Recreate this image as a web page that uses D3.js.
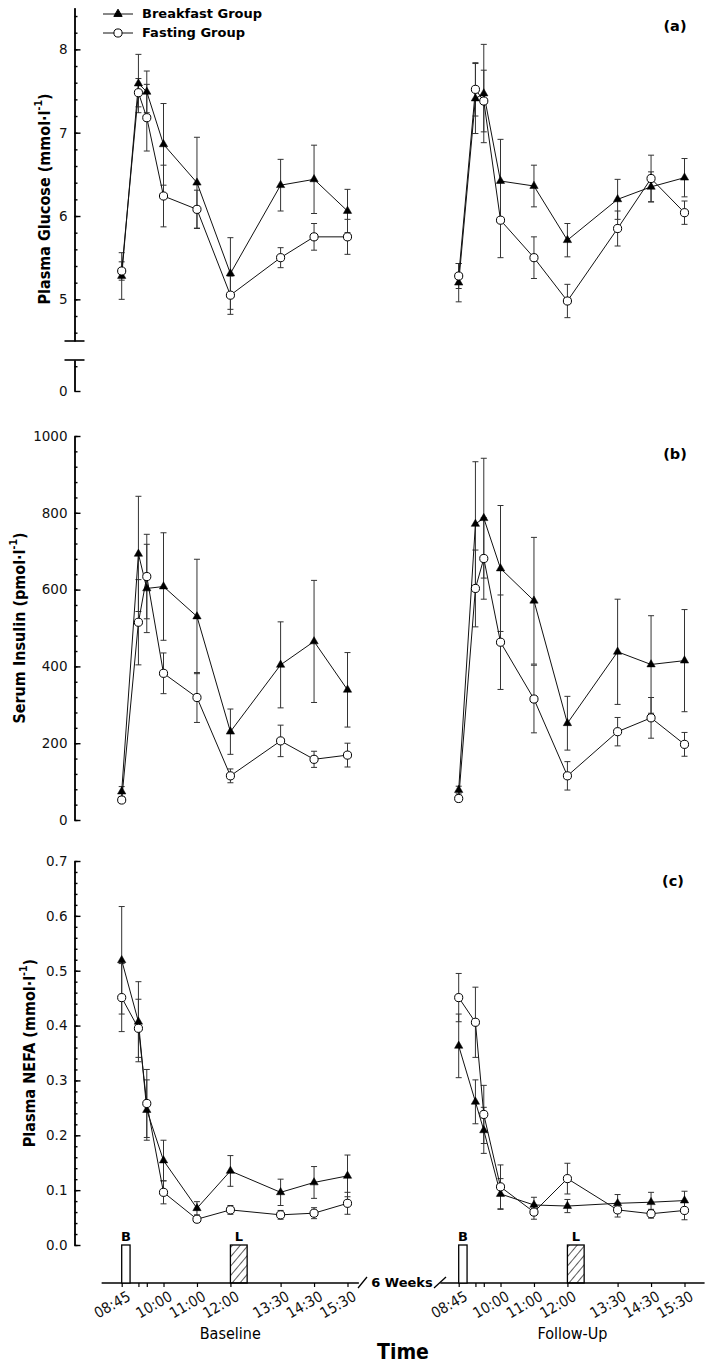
<!DOCTYPE html>
<html>
<head>
<meta charset="utf-8">
<title>Glucose, insulin and NEFA - breakfast vs fasting</title>
<script src="https://cdn.jsdelivr.net/npm/d3@7"></script>
<style>
  body { margin: 0; background: #fff; }
  svg { display: block; font-family: "DejaVu Sans", Verdana, sans-serif; }
  .cond { font-family: "DejaVu Sans Condensed", "DejaVu Sans", sans-serif; }
</style>
</head>
<body>
<svg id="chart" width="709" height="1364"></svg>
<script>
// sampling times (hours of the day), same for both visits
var times = [8.75, 9.25, 9.5, 10, 11, 12, 13.5, 14.5, 15.5];
var labelTimes = [8.75, 10, 11, 12, 13.5, 14.5, 15.5];
var labelText = ["08:45", "10:00", "11:00", "12:00", "13:30", "14:30", "15:30"];

// plasma glucose (mmol/l), mean and SE
var gluBaseBreakfast = [5.28, 7.59, 7.49, 6.86, 6.40, 5.31, 6.37, 6.44, 6.06];
var gluBaseBreakfastSE = [0.28, 0.35, 0.25, 0.49, 0.545, 0.43, 0.31, 0.41, 0.26];
var gluBaseFasting = [5.34, 7.48, 7.18, 6.24, 6.08, 5.05, 5.50, 5.75, 5.75];
var gluBaseFastingSE = [0.11, 0.17, 0.40, 0.37, 0.23, 0.23, 0.12, 0.16, 0.21];
var gluFollowBreakfast = [5.20, 7.41, 7.47, 6.42, 6.36, 5.71, 6.20, 6.35, 6.46];
var gluFollowBreakfastSE = [0.23, 0.42, 0.59, 0.50, 0.25, 0.20, 0.24, 0.18, 0.23];
var gluFollowFasting = [5.28, 7.52, 7.38, 5.95, 5.50, 4.98, 5.85, 6.45, 6.04];
var gluFollowFastingSE = [0.15, 0.32, 0.37, 0.45, 0.25, 0.20, 0.21, 0.28, 0.14];

// serum insulin (pmol/l)
var insBaseBreakfast = [74, 693, 603, 608, 530, 230, 404, 465, 339];
var insBaseBreakfastSE = [13, 150, 115, 140, 149, 59, 112, 159, 97];
var insBaseFasting = [52, 515, 634, 382, 319, 115, 206, 158, 169];
var insBaseFastingSE = [5, 111, 110, 53, 65, 18, 41, 21, 31];
var insFollowBreakfast = [78, 771, 786, 655, 571, 252, 438, 405, 415];
var insFollowBreakfastSE = [10, 162, 156, 164, 165, 70, 137, 127, 133];
var insFollowFasting = [56, 603, 681, 463, 315, 115, 230, 266, 197];
var insFollowFastingSE = [8, 100, 106, 123, 88, 37, 37, 53, 31];

// plasma NEFA (mmol/l)
var nefaBaseBreakfast = [0.519, 0.407, 0.246, 0.154, 0.067, 0.135, 0.096, 0.114, 0.126];
var nefaBaseBreakfastSE = [0.098, 0.073, 0.055, 0.037, 0.012, 0.028, 0.024, 0.029, 0.038];
var nefaBaseFasting = [0.451, 0.395, 0.258, 0.096, 0.047, 0.064, 0.055, 0.058, 0.076];
var nefaBaseFastingSE = [0.062, 0.053, 0.062, 0.021, 0.005, 0.008, 0.008, 0.010, 0.020];
var nefaFollowBreakfast = [0.363, 0.261, 0.209, 0.093, 0.073, 0.071, 0.076, 0.078, 0.081];
var nefaFollowBreakfastSE = [0.058, 0.040, 0.042, 0.028, 0.014, 0.012, 0.016, 0.018, 0.017];
var nefaFollowFasting = [0.451, 0.406, 0.238, 0.106, 0.060, 0.121, 0.064, 0.057, 0.063];
var nefaFollowFastingSE = [0.044, 0.064, 0.053, 0.040, 0.013, 0.028, 0.013, 0.008, 0.017];

// meal bars: breakfast and lunch (start, end in hours)
var meals = [{name: "B", start: 8.75, end: 9.0, hatch: false},
             {name: "L", start: 12.0, end: 12.5, hatch: true}];

var svg = d3.select("#chart");
var axisX = 74.5;
var shift = 337;

var xL = d3.scaleLinear().domain([8.75, 15.5]).range([121.7, 347.5]);
var xR = d3.scaleLinear().domain([8.75, 15.5]).range([121.7 + shift, 347.5 + shift]);

var yA = d3.scaleLinear().domain([4.5, 8.5]).range([341, 7.7]);
var yA0 = d3.scaleLinear().domain([0, 0.5]).range([391, 360]);
var yB = d3.scaleLinear().domain([0, 1000]).range([820, 436]);
var yC = d3.scaleLinear().domain([0, 0.7]).range([1245, 861]);

var defs = svg.append("defs");
var pat = defs.append("pattern").attr("id", "hatch")
  .attr("patternUnits", "userSpaceOnUse").attr("width", 6).attr("height", 6)
  .attr("patternTransform", "rotate(40)");
pat.append("line").attr("x1", 0).attr("y1", 0).attr("x2", 0).attr("y2", 6)
  .attr("stroke", "#000").attr("stroke-width", 1.3);

function yAxis(scale, majors, minors, fmt) {
  var g = svg.append("g").attr("transform", "translate(" + axisX + ",0)");
  g.append("g").call(d3.axisLeft(scale).tickValues(minors).tickSize(-3).tickSizeOuter(0).tickFormat(""));
  g.append("g").call(d3.axisLeft(scale).tickValues(majors).tickSize(-6).tickSizeOuter(0).tickPadding(7).tickFormat(fmt));
  g.selectAll("path, line").attr("stroke", "#000").attr("stroke-width", 1.4);
  g.selectAll("text").attr("font-family", "DejaVu Sans, sans-serif").attr("font-size", 13.5).attr("fill", "#111");
  return g;
}

function yLabel(x, y, main) {
  var t = svg.append("text").attr("class", "cond")
    .attr("transform", "translate(" + x + "," + y + ") rotate(-90)")
    .attr("text-anchor", "middle").attr("dominant-baseline", "middle")
    .attr("font-weight", "bold").attr("font-size", 16);
  t.append("tspan").text(main + "l");
  t.append("tspan").attr("dy", -6).attr("font-size", 10.5).text("-1");
  t.append("tspan").attr("dy", 6).text(")");
}

// panel (a) glucose, with broken axis
yAxis(yA, [5, 6, 7, 8], d3.range(23, 43).map(function (d) { return d / 5; }), d3.format("d"));
yAxis(yA0, [0], [0.4], d3.format("d"));
[yA(4.5), yA0(0.5)].forEach(function (y) {
  svg.append("line").attr("x1", axisX - 10).attr("x2", axisX + 10)
    .attr("y1", y).attr("y2", y).attr("stroke", "#000").attr("stroke-width", 1.6);
});
yLabel(45, 199, "Plasma Glucose (mmol·");

// panel (b) insulin
yAxis(yB, d3.range(0, 1001, 200), d3.range(0, 1001, 40), d3.format("d"));
yLabel(20, 628, "Serum Insulin (pmol·");

// panel (c) NEFA
yAxis(yC, d3.range(0, 8).map(function (d) { return d / 10; }),
  d3.range(0, 36).map(function (d) { return d / 50; }), d3.format(".1f"));
yLabel(30, 1053, "Plasma NEFA (mmol·");

// panel letters
[["(a)", 675, 27], ["(b)", 675, 455], ["(c)", 673, 882]].forEach(function (p) {
  svg.append("text").attr("x", p[1]).attr("y", p[2]).attr("text-anchor", "middle")
    .attr("dominant-baseline", "middle").attr("font-weight", "bold").attr("font-size", 14.5).text(p[0]);
});

var errLayer = svg.append("g");
var lineLayer = svg.append("g");
var markLayer = svg.append("g");

function drawSeries(x, y, mean, se, kind) {
  var pts = times.map(function (t, i) { return {t: t, m: mean[i], s: se[i]}; });
  var eb = errLayer.append("g").attr("stroke", "#333").attr("stroke-width", 1);
  eb.selectAll("line.v").data(pts).enter().append("line")
    .attr("x1", function (d) { return x(d.t); }).attr("x2", function (d) { return x(d.t); })
    .attr("y1", function (d) { return y(d.m - d.s); }).attr("y2", function (d) { return y(d.m + d.s); });
  [-1, 1].forEach(function (sgn) {
    eb.selectAll(null).data(pts).enter().append("line")
      .attr("x1", function (d) { return x(d.t) - 3; }).attr("x2", function (d) { return x(d.t) + 3; })
      .attr("y1", function (d) { return y(d.m + sgn * d.s); }).attr("y2", function (d) { return y(d.m + sgn * d.s); });
  });
  lineLayer.append("path").datum(pts)
    .attr("fill", "none").attr("stroke", "#111").attr("stroke-width", 1)
    .attr("d", d3.line().x(function (d) { return x(d.t); }).y(function (d) { return y(d.m); }));
  var sym = d3.symbol().type(kind === "breakfast" ? d3.symbolTriangle : d3.symbolCircle)
    .size(kind === "breakfast" ? 30 : 52);
  markLayer.append("g").selectAll("path").data(pts).enter().append("path")
    .attr("transform", function (d) { return "translate(" + x(d.t) + "," + y(d.m) + ")"; })
    .attr("d", sym)
    .attr("fill", kind === "breakfast" ? "#000" : "#fff")
    .attr("stroke", "#000").attr("stroke-width", kind === "breakfast" ? 0.5 : 1);
}

drawSeries(xL, yA, gluBaseBreakfast, gluBaseBreakfastSE, "breakfast");
drawSeries(xL, yA, gluBaseFasting, gluBaseFastingSE, "fasting");
drawSeries(xR, yA, gluFollowBreakfast, gluFollowBreakfastSE, "breakfast");
drawSeries(xR, yA, gluFollowFasting, gluFollowFastingSE, "fasting");
drawSeries(xL, yB, insBaseBreakfast, insBaseBreakfastSE, "breakfast");
drawSeries(xL, yB, insBaseFasting, insBaseFastingSE, "fasting");
drawSeries(xR, yB, insFollowBreakfast, insFollowBreakfastSE, "breakfast");
drawSeries(xR, yB, insFollowFasting, insFollowFastingSE, "fasting");
drawSeries(xL, yC, nefaBaseBreakfast, nefaBaseBreakfastSE, "breakfast");
drawSeries(xL, yC, nefaBaseFasting, nefaBaseFastingSE, "fasting");
drawSeries(xR, yC, nefaFollowBreakfast, nefaFollowBreakfastSE, "breakfast");
drawSeries(xR, yC, nefaFollowFasting, nefaFollowFastingSE, "fasting");

// legend
var legend = svg.append("g");
[["breakfast", "Breakfast Group", 14], ["fasting", "Fasting Group", 33]].forEach(function (r) {
  legend.append("line").attr("x1", 103).attr("x2", 133).attr("y1", r[2]).attr("y2", r[2])
    .attr("stroke", "#111").attr("stroke-width", 1);
  legend.append("path").attr("transform", "translate(118," + r[2] + ")")
    .attr("d", d3.symbol().type(r[0] === "breakfast" ? d3.symbolTriangle : d3.symbolCircle).size(r[0] === "breakfast" ? 30 : 52))
    .attr("fill", r[0] === "breakfast" ? "#000" : "#fff").attr("stroke", "#000");
  legend.append("text").attr("x", 142).attr("y", r[2]).attr("dominant-baseline", "middle")
    .attr("font-weight", "bold").attr("font-size", 13).text(r[1]);
});

// time axis with meals
var axisY = 1283;
[[xL, 8.15, 15.84, "Baseline"], [xR, 8.2, 16.1, "Follow-Up"]].forEach(function (s) {
  var x = s[0];
  svg.append("line").attr("x1", x(s[1])).attr("x2", x(s[2])).attr("y1", axisY).attr("y2", axisY)
    .attr("stroke", "#000").attr("stroke-width", 1.4);
  var g = svg.append("g").attr("transform", "translate(0," + axisY + ")")
    .call(d3.axisBottom(x).tickValues(times).tickSize(4).tickSizeOuter(0)
      .tickFormat(function (t) { var i = labelTimes.indexOf(t); return i < 0 ? "" : labelText[i]; }));
  g.select(".domain").remove();
  g.selectAll("line").attr("stroke", "#000").attr("stroke-width", 1.2);
  g.selectAll("text").attr("class", "cond").attr("font-family", null).attr("font-size", 15).attr("fill", "#111")
    .attr("text-anchor", "end").attr("y", 0).attr("dy", "0.72em")
    .attr("transform", "translate(4,7) rotate(-30)");
  meals.forEach(function (m) {
    svg.append("rect").attr("x", x(m.start)).attr("y", yC(0))
      .attr("width", x(m.end) - x(m.start)).attr("height", axisY - yC(0))
      .attr("fill", m.hatch ? "url(#hatch)" : "#fff").attr("stroke", "#000").attr("stroke-width", 1.3);
    svg.append("text").attr("x", (x(m.start) + x(m.end)) / 2).attr("y", yC(0) - 4)
      .attr("text-anchor", "middle").attr("font-weight", "bold").attr("font-size", 13).text(m.name);
  });
  svg.append("text").attr("class", "cond").attr("x", (x(s[1]) + x(s[2])) / 2).attr("y", 1339)
    .attr("text-anchor", "middle").attr("font-size", 16).text(s[3]);
});

// axis break
[[358, 367], [434, 446]].forEach(function (b) {
  svg.append("line").attr("x1", b[0]).attr("x2", b[1]).attr("y1", axisY + 5).attr("y2", axisY - 6)
    .attr("stroke", "#000").attr("stroke-width", 1.3);
});
svg.append("text").attr("x", 402).attr("y", axisY).attr("text-anchor", "middle")
  .attr("dominant-baseline", "middle").attr("font-weight", "bold").attr("font-size", 13).text("6 Weeks");

svg.append("text").attr("class", "cond").attr("x", 403).attr("y", 1359).attr("text-anchor", "middle")
  .attr("font-weight", "bold").attr("font-size", 21).text("Time");
</script>
</body>
</html>
